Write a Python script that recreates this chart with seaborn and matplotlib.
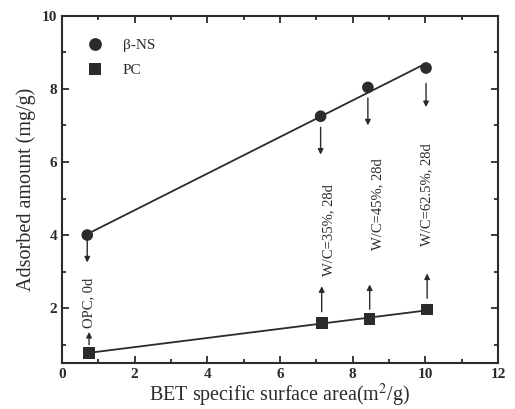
import matplotlib
matplotlib.use("Agg")
import matplotlib.pyplot as plt
import seaborn as sns
import pandas as pd
from matplotlib.ticker import MultipleLocator

# Adsorbed amount vs BET specific surface area
bet_ns = [0.70, 7.12, 8.42, 10.02]
ads_ns = [4.00, 7.25, 8.04, 8.57]
bet_pc = [0.75, 7.15, 8.47, 10.05]
ads_pc = [0.78, 1.59, 1.71, 1.96]

sample_labels = ["OPC, 0d", "W/C=35%, 28d", "W/C=45%, 28d", "W/C=62.5%, 28d"]
label_x = [0.74, 7.34, 8.68, 10.03]
label_y = [2.15, 4.15, 4.85, 5.10]

# arrows: (x, y_start, y_end)
down_arrows = [(0.70, 3.85, 3.25), (7.12, 6.95, 6.20), (8.42, 7.75, 7.00), (10.02, 8.15, 7.50)]
up_arrows = [(0.75, 1.00, 1.35), (7.15, 1.90, 2.60), (8.47, 1.97, 2.65), (10.05, 2.27, 2.95)]

sns.set_theme(style="ticks")
plt.rcParams["font.family"] = ["Liberation Serif", "DejaVu Serif"]
plt.rcParams["mathtext.fontset"] = "stix"

df = pd.concat([
    pd.DataFrame({"bet": bet_ns, "ads": ads_ns, "sample": "β-NS"}),
    pd.DataFrame({"bet": bet_pc, "ads": ads_pc, "sample": "PC"}),
])

fig = plt.figure(figsize=(5.15, 4.09), dpi=100)
ax = fig.add_axes([0.120, 0.1125, 0.847, 0.849])

ink = "#2b2b2b"
for name in ["β-NS", "PC"]:
    sub = df[df["sample"] == name]
    sns.regplot(data=sub, x="bet", y="ads", ax=ax, ci=None, truncate=True,
                scatter=False, line_kws={"color": ink, "lw": 1.3})
sns.scatterplot(data=df, x="bet", y="ads", style="sample", markers={"β-NS": "o", "PC": "s"},
                color=ink, s=70, edgecolor=ink, linewidth=0, ax=ax, zorder=3)

for x, y0, y1 in down_arrows + up_arrows:
    ax.annotate("", xy=(x, y1), xytext=(x, y0),
                arrowprops=dict(arrowstyle="-|>", color=ink, lw=1.0,
                                mutation_scale=8, shrinkA=0, shrinkB=0))

for t, x, y in zip(sample_labels, label_x, label_y):
    ax.text(x, y, t, rotation=90, ha="center", va="center", fontsize=10.5, color=ink)

ax.set_xlim(0, 12)
ax.set_ylim(0.5, 10)
ax.xaxis.set_major_locator(MultipleLocator(2))
ax.xaxis.set_minor_locator(MultipleLocator(1))
ax.yaxis.set_major_locator(MultipleLocator(2))
ax.yaxis.set_minor_locator(MultipleLocator(1))
ax.set_yticks([2, 4, 6, 8, 10])
ax.tick_params(which="both", direction="in", top=True, right=True, width=1.3, color=ink)
ax.tick_params(which="major", length=5)
ax.tick_params(which="minor", length=3)
for lab in ax.get_xticklabels() + ax.get_yticklabels():
    lab.set_fontweight("bold")
    lab.set_fontsize(11)
    lab.set_color(ink)
for sp in ax.spines.values():
    sp.set_linewidth(1.5)
    sp.set_color(ink)

ax.set_xlabel("BET specific surface area(m$^2$/g)", fontsize=14.5, color=ink, labelpad=1)
ax.set_ylabel("Adsorbed amount (mg/g)", fontsize=14.5, color=ink, labelpad=4)

leg = ax.legend(loc="upper left", bbox_to_anchor=(0.01, 0.975), frameon=False,
                fontsize=11, handletextpad=0.8, labelspacing=0.75, markerscale=1.1)
leg.set_title(None)
for t in leg.get_texts():
    t.set_color(ink)

fig.savefig("out.png", dpi=100)
